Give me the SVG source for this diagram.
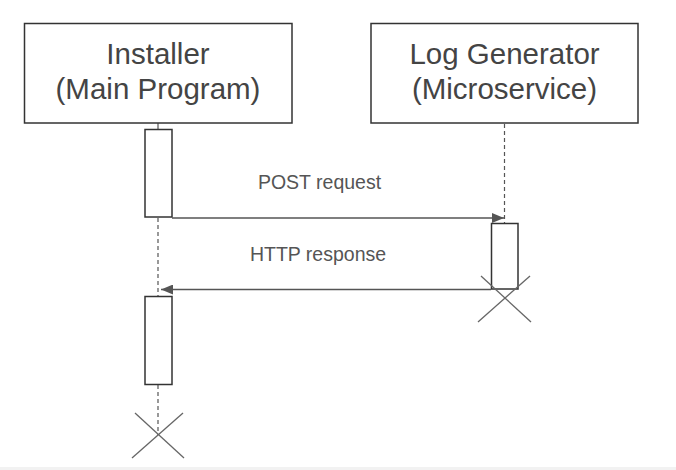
<svg xmlns="http://www.w3.org/2000/svg" width="676" height="470" viewBox="0 0 676 470">
<style>
.box{fill:#fff;stroke:#333;stroke-width:1.5}
.act{fill:#fff;stroke:#333;stroke-width:1.5}
.title{font-family:"Liberation Sans",Arial,sans-serif;font-size:29.5px;fill:#444;text-anchor:middle}
.lbl{font-family:"Liberation Sans",Arial,sans-serif;font-size:19.5px;fill:#555;text-anchor:middle}
.life{stroke:#555;stroke-width:1.2;stroke-dasharray:4 3;fill:none}
.msg{stroke:#555;stroke-width:1.5;fill:none}
.x{stroke:#666;stroke-width:1.3}
</style>
<defs>
<marker id="ah" viewBox="0 0 12 10" refX="12" refY="5" markerWidth="12" markerHeight="10" markerUnits="userSpaceOnUse" orient="auto">
<path d="M0,0 L12,5 L0,10 Z" fill="#555"/>
</marker>
</defs>
<rect x="0" y="0" width="676" height="470" fill="#fff"/>
<rect x="0" y="467" width="676" height="3" fill="#f2f2f2"/>
<g id="lifelines">
<line x1="158" y1="123" x2="158" y2="129" stroke="#555" stroke-width="1.2"/>
<line class="life" x1="158" y1="218" x2="158" y2="296"/>
<line class="life" x1="158" y1="385" x2="158" y2="435"/>
<line class="life" x1="504.5" y1="124" x2="504.5" y2="223"/>
</g>
<g id="installer">
<rect class="box" x="24.5" y="23.5" width="267.5" height="99.5"/>
<text class="title" x="158" y="64">Installer</text>
<text class="title" x="158" y="99">(Main Program)</text>
</g>
<g id="log-generator">
<rect class="box" x="371" y="23.5" width="267" height="99.5"/>
<text class="title" x="504.5" y="64">Log Generator</text>
<text class="title" x="504.5" y="99">(Microservice)</text>
</g>
<g id="act1"><rect class="act" x="145" y="129.5" width="27" height="87.5"/></g>
<g id="act2"><rect class="act" x="491.5" y="223.5" width="26.5" height="65.5"/></g>
<g id="act3"><rect class="act" x="145" y="296.5" width="27" height="88"/></g>
<g id="end-log">
<line class="x" x1="481" y1="276" x2="531" y2="322"/>
<line class="x" x1="530" y1="276" x2="478" y2="322"/>
</g>
<g id="end-installer">
<line class="x" x1="135" y1="413" x2="184" y2="458"/>
<line class="x" x1="183" y1="413" x2="132" y2="458"/>
</g>
<g id="connectors">
<line class="msg" x1="172" y1="218" x2="504" y2="218" marker-end="url(#ah)"/>
<text class="lbl" x="319.5" y="189">POST request</text>
<line class="msg" x1="491" y1="289.5" x2="161" y2="289.5" marker-end="url(#ah)"/>
<text class="lbl" x="318" y="261">HTTP response</text>
</g>
</svg>
